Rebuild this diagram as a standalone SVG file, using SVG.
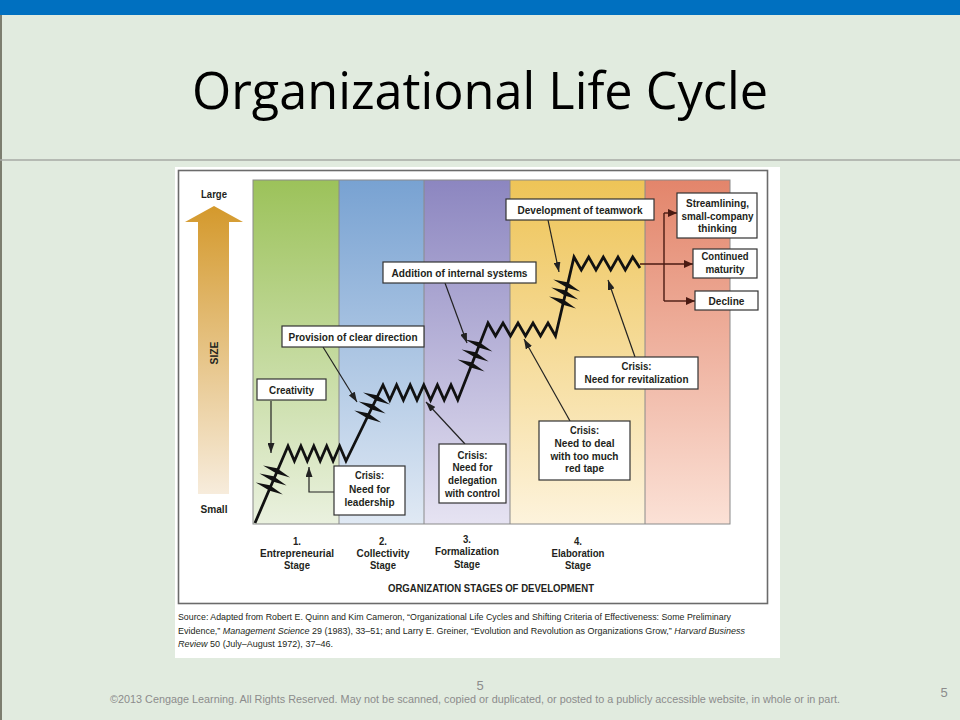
<svg xmlns="http://www.w3.org/2000/svg" width="960" height="720" viewBox="0 0 960 720">
  <defs>
    <linearGradient id="gGreen" x1="0" y1="0" x2="0" y2="1">
      <stop offset="0" stop-color="#9cc25a"/>
      <stop offset="1" stop-color="#eaf1df"/>
    </linearGradient>
    <linearGradient id="gBlue" x1="0" y1="0" x2="0" y2="1">
      <stop offset="0" stop-color="#78a2d2"/>
      <stop offset="1" stop-color="#e0e9f4"/>
    </linearGradient>
    <linearGradient id="gPurple" x1="0" y1="0" x2="0" y2="1">
      <stop offset="0" stop-color="#8c86c0"/>
      <stop offset="1" stop-color="#e6e3f2"/>
    </linearGradient>
    <linearGradient id="gYellow" x1="0" y1="0" x2="0" y2="1">
      <stop offset="0" stop-color="#eec457"/>
      <stop offset="1" stop-color="#fdf3dc"/>
    </linearGradient>
    <linearGradient id="gRed" x1="0" y1="0" x2="0" y2="1">
      <stop offset="0" stop-color="#e3856b"/>
      <stop offset="1" stop-color="#fbe1d6"/>
    </linearGradient>
    <linearGradient id="gSize" x1="0" y1="0" x2="0" y2="1">
      <stop offset="0" stop-color="#d4992c"/>
      <stop offset="1" stop-color="#f7ecdc"/>
    </linearGradient>
    <marker id="arr" markerUnits="userSpaceOnUse" markerWidth="10" markerHeight="7" refX="10" refY="3.5" orient="auto">
      <path d="M0,0 L10,3.5 L0,7 Z" fill="#222"/>
    </marker>
    <marker id="arrRed" markerUnits="userSpaceOnUse" markerWidth="9" markerHeight="8" refX="9" refY="4" orient="auto">
      <path d="M0,0 L9,4 L0,8 Z" fill="#4a1a12"/>
    </marker>
    <!-- barb crossing a rising segment of the growth line -->
    <path id="barb" d="M-14,-5.5 L0,-2.8 L13,6.5 L0,2.8 Z"/>
    <style>
      .box { fill: #ffffff; stroke: #333333; stroke-width: 1.2; }
      .lbl { font-family: "Liberation Sans Narrow", "Liberation Sans", Arial, sans-serif; font-weight: bold; font-size: 11.5px; fill: #231f20; text-anchor: middle; }
      .stg { font-family: "Liberation Sans Narrow", "Liberation Sans", Arial, sans-serif; font-weight: bold; font-size: 11px; fill: #231f20; text-anchor: middle; }
      .conn { fill: none; stroke: #222222; stroke-width: 1.2; marker-end: url(#arr); }
      .branch { fill: none; stroke: #4a1a12; stroke-width: 1.4; }
      .growth { fill: none; stroke: #111111; stroke-width: 2.8; stroke-linejoin: miter; }
      .src { font-family: "Liberation Sans Narrow", "Liberation Sans", Arial, sans-serif; font-size: 9px; fill: #231f20; }
    </style>
  </defs>

  <!-- slide background -->
  <rect x="0" y="0" width="960" height="720" fill="#e1ebdf"/>
  <rect x="0" y="0" width="960" height="15" fill="#0070c0"/>
  <line x1="1" y1="15" x2="1" y2="720" stroke="#5a5a4a" stroke-width="1.5"/>
  <line x1="0" y1="160" x2="960" y2="160" stroke="#a6aaa4" stroke-width="1.5"/>

  <text x="480" y="109" font-family="'Open Sans', 'Noto Sans', sans-serif" font-size="52" fill="#000" text-anchor="middle" textLength="576" lengthAdjust="spacingAndGlyphs">Organizational Life Cycle</text>

  <!-- figure panel -->
  <rect x="175" y="167" width="605" height="491" fill="#ffffff"/>
  <rect x="178.5" y="170.5" width="589" height="433" fill="none" stroke="#6b6b6b" stroke-width="1.6"/>

  <!-- stage columns -->
  <g id="columns">
    <rect x="253" y="180" width="86" height="344" fill="url(#gGreen)"/>
    <rect x="339" y="180" width="85" height="344" fill="url(#gBlue)"/>
    <rect x="424" y="180" width="86" height="344" fill="url(#gPurple)"/>
    <rect x="510" y="180" width="135" height="344" fill="url(#gYellow)"/>
    <rect x="645" y="180" width="85" height="344" fill="url(#gRed)"/>
    <g stroke="#8a8a8a" stroke-width="1" fill="none">
      <rect x="253" y="180" width="477" height="344"/>
      <line x1="339" y1="180" x2="339" y2="524"/>
      <line x1="424" y1="180" x2="424" y2="524"/>
      <line x1="510" y1="180" x2="510" y2="524"/>
      <line x1="645" y1="180" x2="645" y2="524"/>
    </g>
  </g>

  <!-- size axis -->
  <g id="size-axis">
    <path d="M198,222 L185,222 L214,206 L243,222 L229,222 L229,494 L198,494 Z" fill="url(#gSize)"/>
    <text class="lbl" x="214" y="198" textLength="26" lengthAdjust="spacingAndGlyphs">Large</text>
    <text class="lbl" x="214" y="513" textLength="27" lengthAdjust="spacingAndGlyphs">Small</text>
    <text class="lbl" x="0" y="0" transform="translate(217.5,353) rotate(-90)" textLength="23" lengthAdjust="spacingAndGlyphs">SIZE</text>
  </g>

  <!-- growth line with evolution zigzags and revolution barbs -->
  <g id="growth-line">
    <path class="growth" d="M255,523 L288,446 L294.4,461 L300.9,446 L307.3,461 L313.8,446 L320.2,461 L326.7,446 L333.1,461 L339.6,446 L346,461 L383,385 L389.8,400 L396.6,385 L403.4,400 L410.2,385 L417,400 L423.8,385 L430.6,400 L437.4,385 L444.2,400 L451,385 L457.8,400 L488,323 L495.5,336 L503,323 L510.5,336 L518,323 L525.5,336 L533,323 L540.5,336 L548,323 L555.5,336 L574,257 L581.3,270 L588.7,257 L596,270 L603.3,257 L610.7,270 L618,257 L625.3,270 L632.7,257 L640,268"/>
    <g fill="#111">
      <use href="#barb" x="277" y="471"/>
      <use href="#barb" x="273.5" y="479"/>
      <use href="#barb" x="269.8" y="488"/>
      <use href="#barb" x="377" y="398"/>
      <use href="#barb" x="372.6" y="407"/>
      <use href="#barb" x="368.2" y="416"/>
      <use href="#barb" x="479.4" y="345"/>
      <use href="#barb" x="475.6" y="355"/>
      <use href="#barb" x="471.6" y="365"/>
      <use href="#barb" x="567.2" y="285"/>
      <use href="#barb" x="565.2" y="293"/>
      <use href="#barb" x="563" y="302"/>
    </g>
  </g>

  <!-- connectors -->
  <g id="connectors">
    <path class="conn" d="M271,401 L271,453"/>
    <path class="conn" d="M323,347 L357,402"/>
    <path class="conn" d="M445,283 L467,343"/>
    <path class="conn" d="M548,220 L559,272"/>
    <path class="conn" d="M334,492 L309,492 L309,467"/>
    <path class="conn" d="M465,444 L426,402"/>
    <path class="conn" d="M570,421 L524,339"/>
    <path class="conn" d="M635,357 L608,280"/>
    <path class="branch" d="M664,213 L664,301"/>
    <path class="branch" d="M640,264 L693,264" marker-end="url(#arrRed)"/>
    <path class="branch" d="M664,213 L677,213" marker-end="url(#arrRed)"/>
    <path class="branch" d="M664,301 L695,301" marker-end="url(#arrRed)"/>
  </g>

  <!-- labels -->
  <g id="creativity">
    <rect class="box" x="257" y="379" width="69" height="21"/>
    <text class="lbl" x="291.5" y="394" textLength="45" lengthAdjust="spacingAndGlyphs">Creativity</text>
  </g>
  <g id="clear-direction">
    <rect class="box" x="282" y="326" width="142" height="21"/>
    <text class="lbl" x="353" y="341" textLength="129" lengthAdjust="spacingAndGlyphs">Provision of clear direction</text>
  </g>
  <g id="internal-systems">
    <rect class="box" x="383" y="262" width="153" height="21"/>
    <text class="lbl" x="459.5" y="276.5" textLength="136" lengthAdjust="spacingAndGlyphs">Addition of internal systems</text>
  </g>
  <g id="teamwork">
    <rect class="box" x="506" y="199" width="148" height="21"/>
    <text class="lbl" x="580" y="213.5" textLength="125" lengthAdjust="spacingAndGlyphs">Development of teamwork</text>
  </g>
  <g id="crisis-leadership">
    <rect class="box" x="334" y="466" width="71" height="49"/>
    <text class="lbl" x="369.5" y="479" textLength="29" lengthAdjust="spacingAndGlyphs">Crisis:</text>
    <text class="lbl" x="369.5" y="493" textLength="41" lengthAdjust="spacingAndGlyphs">Need for</text>
    <text class="lbl" x="369.5" y="506" textLength="50" lengthAdjust="spacingAndGlyphs">leadership</text>
  </g>
  <g id="crisis-delegation">
    <rect class="box" x="439" y="444" width="67" height="59"/>
    <text class="lbl" x="472.5" y="459" textLength="30" lengthAdjust="spacingAndGlyphs">Crisis:</text>
    <text class="lbl" x="472.5" y="471" textLength="40" lengthAdjust="spacingAndGlyphs">Need for</text>
    <text class="lbl" x="472.5" y="484" textLength="49" lengthAdjust="spacingAndGlyphs">delegation</text>
    <text class="lbl" x="472.5" y="497" textLength="55" lengthAdjust="spacingAndGlyphs">with control</text>
  </g>
  <g id="crisis-red-tape">
    <rect class="box" x="539" y="421" width="91" height="59"/>
    <text class="lbl" x="584.5" y="434" textLength="29" lengthAdjust="spacingAndGlyphs">Crisis:</text>
    <text class="lbl" x="584.5" y="447" textLength="60" lengthAdjust="spacingAndGlyphs">Need to deal</text>
    <text class="lbl" x="584.5" y="460" textLength="68" lengthAdjust="spacingAndGlyphs">with too much</text>
    <text class="lbl" x="584.5" y="472" textLength="39" lengthAdjust="spacingAndGlyphs">red tape</text>
  </g>
  <g id="crisis-revitalization">
    <rect class="box" x="575" y="357" width="123" height="32"/>
    <text class="lbl" x="636.5" y="370" textLength="30" lengthAdjust="spacingAndGlyphs">Crisis:</text>
    <text class="lbl" x="636.5" y="383" textLength="104" lengthAdjust="spacingAndGlyphs">Need for revitalization</text>
  </g>
  <g id="streamlining">
    <rect class="box" x="677" y="193" width="80" height="45"/>
    <text class="lbl" x="717.5" y="207" textLength="63" lengthAdjust="spacingAndGlyphs">Streamlining,</text>
    <text class="lbl" x="717.5" y="220" textLength="72" lengthAdjust="spacingAndGlyphs">small-company</text>
    <text class="lbl" x="717.5" y="232" textLength="39" lengthAdjust="spacingAndGlyphs">thinking</text>
  </g>
  <g id="continued-maturity">
    <rect class="box" x="693" y="249" width="64" height="29"/>
    <text class="lbl" x="725" y="260" textLength="47" lengthAdjust="spacingAndGlyphs">Continued</text>
    <text class="lbl" x="725" y="273" textLength="39" lengthAdjust="spacingAndGlyphs">maturity</text>
  </g>
  <g id="decline">
    <rect class="box" x="695" y="291" width="63" height="19"/>
    <text class="lbl" x="726.5" y="305" textLength="36" lengthAdjust="spacingAndGlyphs">Decline</text>
  </g>

  <!-- stage names -->
  <g id="stage-labels">
    <text class="stg" x="297" y="545" textLength="8" lengthAdjust="spacingAndGlyphs">1.</text>
    <text class="stg" x="297" y="557" textLength="74" lengthAdjust="spacingAndGlyphs">Entrepreneurial</text>
    <text class="stg" x="297" y="569" textLength="26" lengthAdjust="spacingAndGlyphs">Stage</text>
    <text class="stg" x="383" y="545" textLength="8" lengthAdjust="spacingAndGlyphs">2.</text>
    <text class="stg" x="383" y="557" textLength="53" lengthAdjust="spacingAndGlyphs">Collectivity</text>
    <text class="stg" x="383" y="569" textLength="26" lengthAdjust="spacingAndGlyphs">Stage</text>
    <text class="stg" x="467" y="543" textLength="8" lengthAdjust="spacingAndGlyphs">3.</text>
    <text class="stg" x="467" y="555" textLength="64" lengthAdjust="spacingAndGlyphs">Formalization</text>
    <text class="stg" x="467" y="568" textLength="26" lengthAdjust="spacingAndGlyphs">Stage</text>
    <text class="stg" x="578" y="545" textLength="8" lengthAdjust="spacingAndGlyphs">4.</text>
    <text class="stg" x="578" y="557" textLength="53" lengthAdjust="spacingAndGlyphs">Elaboration</text>
    <text class="stg" x="578" y="569" textLength="26" lengthAdjust="spacingAndGlyphs">Stage</text>
    <text class="stg" x="491" y="592" textLength="206" lengthAdjust="spacingAndGlyphs">ORGANIZATION STAGES OF DEVELOPMENT</text>
  </g>

  <!-- source note -->
  <g id="source">
    <text class="src" x="178" y="620" textLength="553" lengthAdjust="spacingAndGlyphs">Source: Adapted from Robert E. Quinn and Kim Cameron, “Organizational Life Cycles and Shifting Criteria of Effectiveness: Some Preliminary</text>
    <text class="src" x="178" y="634" textLength="567" lengthAdjust="spacingAndGlyphs">Evidence,” <tspan font-style="italic">Management Science</tspan> 29 (1983), 33–51; and Larry E. Greiner, “Evolution and Revolution as Organizations Grow,” <tspan font-style="italic">Harvard Business</tspan></text>
    <text class="src" x="178" y="647" textLength="155" lengthAdjust="spacingAndGlyphs"><tspan font-style="italic">Review</tspan> 50 (July–August 1972), 37–46.</text>
  </g>

  <!-- footer -->
  <g id="footer" font-family="'Liberation Sans Narrow', 'Liberation Sans', Arial, sans-serif" fill="#8c8c8c">
    <text x="480" y="690" font-size="13" text-anchor="middle">5</text>
    <text x="475" y="703" font-size="10.5" text-anchor="middle" textLength="730" lengthAdjust="spacingAndGlyphs">©2013 Cengage Learning. All Rights Reserved. May not be scanned, copied or duplicated, or posted to a publicly accessible website, in whole or in part.</text>
    <text x="944" y="697" font-size="13" text-anchor="middle">5</text>
  </g>
</svg>
